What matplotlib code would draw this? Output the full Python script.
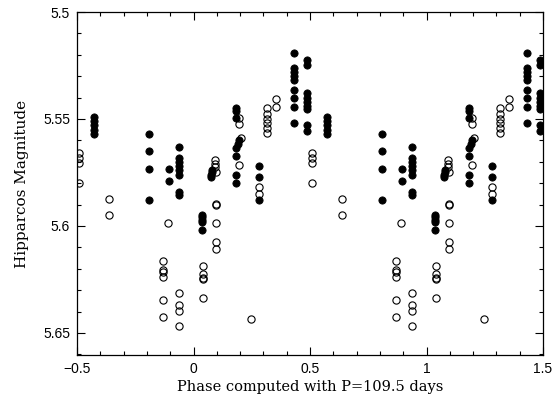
import matplotlib
matplotlib.use("Agg")
import matplotlib.pyplot as plt
import numpy as np
from matplotlib.ticker import MultipleLocator

# Filled points: (phase, magnitude)
filled_phase = [
    -0.427, -0.427, -0.427, -0.427, -0.427,
    -0.191, -0.191, -0.191, -0.191,
    -0.105, -0.105,
    -0.062, -0.062, -0.062, -0.062, -0.062, -0.062, -0.062, -0.062,
    0.035, 0.035, 0.035, 0.035, 0.035,
    0.074, 0.076, 0.078, 0.080,
    0.182, 0.182, 0.182, 0.197, 0.190, 0.183, 0.182, 0.183, 0.183,
    0.281, 0.281, 0.281,
    0.433, 0.433, 0.433, 0.433, 0.433, 0.433, 0.433, 0.433, 0.433,
    0.487, 0.487, 0.487, 0.487, 0.487, 0.487, 0.487, 0.487, 0.487,
]
filled_mag = [
    5.549, 5.551, 5.553, 5.555, 5.557,
    5.557, 5.565, 5.5735, 5.588,
    5.5735, 5.579,
    5.563, 5.568, 5.570, 5.572, 5.574, 5.576, 5.584, 5.5855,
    5.595, 5.596, 5.597, 5.598, 5.602,
    5.577, 5.576, 5.575, 5.574,
    5.545, 5.5465, 5.5495, 5.560, 5.5615, 5.5635, 5.5675, 5.576, 5.580,
    5.572, 5.577, 5.588,
    5.519, 5.526, 5.528, 5.530, 5.532, 5.5365, 5.540, 5.5445, 5.552,
    5.5225, 5.525, 5.538, 5.540, 5.542, 5.544, 5.5455, 5.553, 5.5555,
]

# Open points: (phase, magnitude)
open_phase = [
    -0.363, -0.363,
    -0.111,
    -0.130, -0.130, -0.130, -0.130, -0.130, -0.130,
    -0.061, -0.061, -0.061, -0.061,
    0.042, 0.042, 0.042, 0.042, 0.042,
    0.092, 0.092, 0.092, 0.097,
    0.095, 0.095,
    0.098, 0.098, 0.098,
    0.197, 0.197, 0.203, 0.197,
    0.281, 0.281,
    0.247,
    0.314, 0.314, 0.314, 0.314, 0.314, 0.314,
    0.353, 0.353,
    0.507, 0.507, 0.507, 0.507,
]
open_mag = [
    5.5874, 5.5949,
    5.5985,
    5.6164, 5.6206, 5.6215, 5.6237, 5.6346, 5.6424,
    5.6312, 5.6369, 5.6396, 5.6466,
    5.6187, 5.6226, 5.6242, 5.6248, 5.6338,
    5.569, 5.571, 5.5725, 5.5746,
    5.5897, 5.5902,
    5.5988, 5.6073, 5.6107,
    5.5495, 5.5525, 5.559, 5.5715,
    5.5816, 5.585,
    5.6436,
    5.5447, 5.5477, 5.550, 5.552, 5.554, 5.5567,
    5.5407, 5.5445,
    5.566, 5.568, 5.5705, 5.580,
]

x_label = "Phase computed with P=109.5 days"
y_label = "Hipparcos Magnitude"
cycle_offsets = [-1, 0, 1]
x_min, x_max = -0.5, 1.5


def repeat_cycles(phase, mag):
    xs, ys = [], []
    for off in cycle_offsets:
        for p, m in zip(phase, mag):
            x = p + off
            if x_min <= x <= x_max:
                xs.append(x)
                ys.append(m)
    return xs, ys


fig = plt.figure(figsize=(5.55, 3.97), dpi=100)
ax = fig.add_axes([77/555, 1-355/397, (543-77)/555, (355-12)/397])

fx, fy = repeat_cycles(filled_phase, filled_mag)
ox, oy = repeat_cycles(open_phase, open_mag)
ax.plot(fx, fy, linestyle='none', marker='o', markersize=5.2,
        markerfacecolor='black', markeredgecolor='black', markeredgewidth=0.6)
ax.plot(ox, oy, linestyle='none', marker='o', markersize=5.2,
        markerfacecolor='none', markeredgecolor='black', markeredgewidth=0.8)

ax.set_xlim(x_min, x_max)
ax.set_ylim(5.6603, 5.5)

ax.xaxis.set_minor_locator(MultipleLocator(0.1))
ax.yaxis.set_minor_locator(MultipleLocator(0.01))
ax.set_xticks([-0.5, 0, 0.5, 1, 1.5])
ax.set_xticklabels(['\u22120.5', '0', '0.5', '1', '1.5'])
ax.set_yticks([5.5, 5.55, 5.6, 5.65])
ax.set_yticklabels(['5.5', '5.55', '5.6', '5.65'])

ax.tick_params(which='both', direction='in', top=True, right=True, width=0.8, colors='black')
ax.tick_params(which='major', length=6, pad=5)
ax.tick_params(which='minor', length=3)
for lab in ax.get_xticklabels() + ax.get_yticklabels():
    lab.set_fontfamily('Liberation Sans')
    lab.set_fontsize(10)
for s in ax.spines.values():
    s.set_linewidth(0.9)

ax.set_xlabel(x_label, family='DejaVu Serif', fontsize=10.5, labelpad=3)
ax.set_ylabel(y_label, family='DejaVu Serif', fontsize=11, labelpad=10)

fig.savefig('out.png', dpi=100)
